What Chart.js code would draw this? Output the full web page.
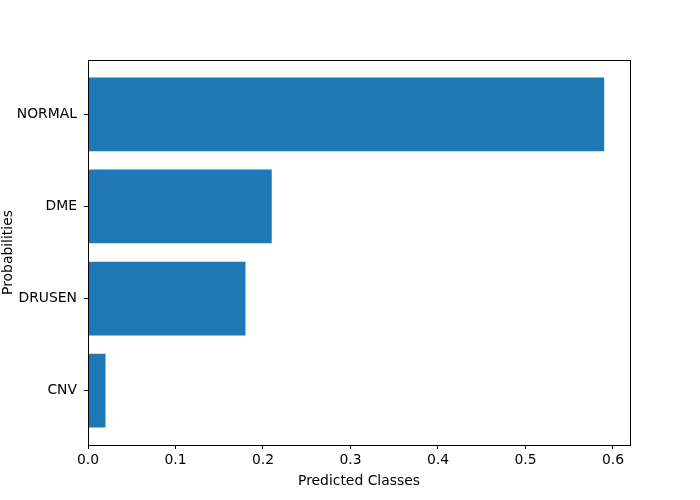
<!DOCTYPE html>
<html>
<head>
<meta charset="utf-8">
<script src="https://cdn.jsdelivr.net/npm/chart.js@4"></script>
<style>
  html, body { margin: 0; padding: 0; background: #fff; }
  #wrap { width: 700px; height: 500px; }
</style>
</head>
<body>
<div id="wrap"><canvas id="c" width="700" height="500"></canvas></div>
<script>
const categories = ['CNV', 'DRUSEN', 'DME', 'NORMAL'];
const probabilities = [0.02, 0.18, 0.21, 0.59];
const xTicks = [0, 0.1, 0.2, 0.3, 0.4, 0.5, 0.6];
const xTitle = 'Predicted Classes';
const yTitle = 'Probabilities';

const FONT = { family: 'DejaVu Sans', size: 13.9 };
const frame = {
  id: 'frame',
  afterDatasetsDraw(chart) {
    const a = chart.chartArea, ctx = chart.ctx;
    ctx.save();
    ctx.strokeStyle = '#000';
    ctx.lineWidth = 1;
    ctx.strokeRect(Math.round(a.left) + 0.5, Math.round(a.top) + 0.5,
                   Math.round(a.right - a.left), Math.round(a.bottom - a.top));
    ctx.restore();
  }
};

new Chart(document.getElementById('c'), {
  type: 'bar',
  data: {
    datasets: [{
      data: categories.map((c, i) => ({ x: probabilities[i], y: i })),
      backgroundColor: '#1f77b4',
      borderWidth: 0,
      categoryPercentage: 1,
      barPercentage: 0.8
    }]
  },
  options: {
    indexAxis: 'y',
    responsive: false,
    animation: false,
    devicePixelRatio: 1,
    layout: { padding: { left: 0, top: 60, right: 70, bottom: 10 } },
    plugins: { legend: { display: false }, tooltip: { enabled: false } },
    scales: {
      x: {
        type: 'linear',
        min: 0,
        max: Math.max(...probabilities) * 1.05,
        afterBuildTicks(s) { s.ticks = xTicks.map(v => ({ value: v })); },
        afterFit(s) { s.height = 45; },
        ticks: { color: '#000', font: FONT, padding: 3, maxRotation: 0,
                 callback: v => Number(v).toFixed(1) },
        grid: { drawOnChartArea: false, tickLength: 4, color: '#000', tickColor: '#000' },
        border: { color: '#000' },
        title: { display: true, text: xTitle, color: '#000', font: FONT, padding: { top: 2, bottom: 0 } }
      },
      y: {
        type: 'linear',
        offset: false,
        min: -0.59,
        max: categories.length - 1 + 0.59,
        afterBuildTicks(s) { s.ticks = categories.map((c, i) => ({ value: i })); },
        afterFit(s) { s.width = 88; },
        ticks: { color: '#000', font: FONT, padding: 7,
                 callback: v => categories[v] },
        grid: { offset: false, drawOnChartArea: false, tickLength: 4, color: '#000', tickColor: '#000' },
        border: { color: '#000' },
        title: { display: true, text: yTitle, color: '#000', font: FONT, padding: { top: 0, bottom: 0 } }
      }
    }
  },
  plugins: [frame]
});
</script>
</body>
</html>
